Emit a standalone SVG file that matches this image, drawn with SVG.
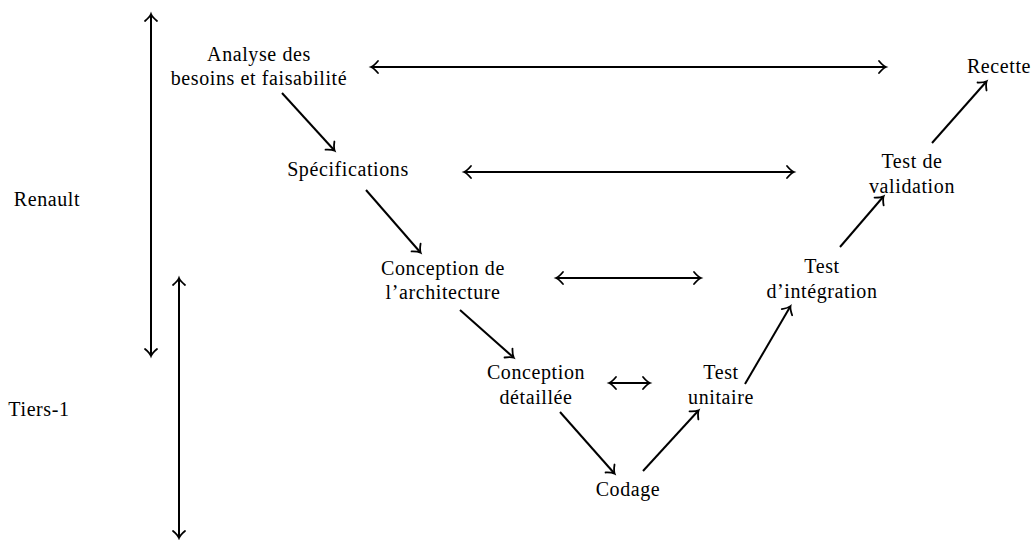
<svg xmlns="http://www.w3.org/2000/svg" width="1035" height="540" viewBox="0 0 1035 540">
<style>
.t text{font-size:20px;letter-spacing:0.6px;fill:#000;text-anchor:middle}
.c line{stroke:#000;stroke-width:2;fill:none;marker-end:url(#ah)}
.c line.d{marker-start:url(#as)}
</style>
<defs>
<marker id="ah" markerWidth="20" markerHeight="20" refX="0" refY="0" orient="auto" markerUnits="userSpaceOnUse" overflow="visible">
<path d="M-6,-6 Q-2,-1.2 1,0 Q-2,1.2 -6,6" fill="none" stroke="#000" stroke-width="1.8" stroke-linecap="round"/>
</marker>
<marker id="as" markerWidth="20" markerHeight="20" refX="0" refY="0" orient="auto-start-reverse" markerUnits="userSpaceOnUse" overflow="visible">
<path d="M-6,-6 Q-2,-1.2 1,0 Q-2,1.2 -6,6" fill="none" stroke="#000" stroke-width="1.8" stroke-linecap="round"/>
</marker>
</defs>
<g class="t" font-family="Liberation Serif">
<g id="renault"><text x="47" y="206">Renault</text></g>
<g id="tiers1"><text x="39" y="416">Tiers-1</text></g>
<g id="analyse"><text x="259" y="61">Analyse des</text><text x="259" y="85">besoins et faisabilité</text></g>
<g id="specs"><text x="348" y="176">Spécifications</text></g>
<g id="archi"><text x="443" y="275">Conception de</text><text x="443" y="299">l’architecture</text></g>
<g id="detail"><text x="536" y="379">Conception</text><text x="536" y="404">détaillée</text></g>
<g id="codage"><text x="628" y="496">Codage</text></g>
<g id="unitaire"><text x="721" y="379">Test</text><text x="721" y="404">unitaire</text></g>
<g id="integration"><text x="822" y="273">Test</text><text x="822" y="298">d’intégration</text></g>
<g id="validation"><text x="912" y="168">Test de</text><text x="912" y="193">validation</text></g>
<g id="recette"><text x="999" y="73">Recette</text></g>
</g>
<g class="c" id="connectors">
<line class="d" x1="151" y1="355" x2="151" y2="15"/>
<line class="d" x1="179" y1="537" x2="179" y2="279"/>
<line x1="282" y1="93" x2="334" y2="150"/>
<line x1="366" y1="190" x2="420" y2="252"/>
<line x1="460" y1="310" x2="513" y2="357"/>
<line x1="560" y1="412" x2="614" y2="473"/>
<line x1="643" y1="471" x2="698" y2="411"/>
<line x1="745" y1="384" x2="790" y2="307"/>
<line x1="840" y1="247" x2="883" y2="197"/>
<line x1="932" y1="143" x2="986" y2="82"/>
<line class="d" x1="372" y1="67" x2="885" y2="67"/>
<line class="d" x1="465" y1="172" x2="793" y2="172"/>
<line class="d" x1="557" y1="278" x2="700" y2="278"/>
<line class="d" x1="610" y1="383" x2="649" y2="383"/>
</g>
</svg>
